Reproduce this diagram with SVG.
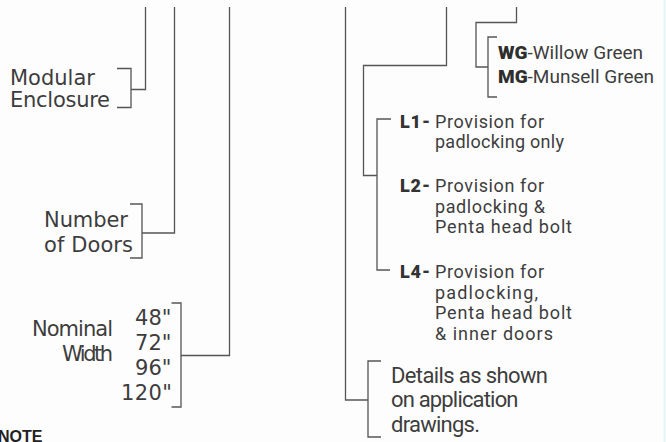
<svg xmlns="http://www.w3.org/2000/svg" width="666" height="442" viewBox="0 0 666 442">
<style>
.ln{fill:none;stroke:#555;stroke-width:1.3}
.lt{font-family:"DejaVu Sans",sans-serif;font-size:21px;fill:#3d3d3d}
.rt{font-family:Roboto,"Liberation Sans",sans-serif;font-size:18px;fill:#3d3d3d}
.rb{font-family:Roboto,"Liberation Sans",sans-serif;font-size:18px;font-weight:900;fill:#333}
.ct{font-family:Roboto,"Liberation Sans",sans-serif;font-size:19px;fill:#3d3d3d}
.cb{font-weight:900;fill:#2e2e2e}
.dt{font-family:Roboto,"Liberation Sans",sans-serif;font-size:22px;fill:#3d3d3d}
.nt{font-family:"Liberation Sans",sans-serif;font-size:16px;font-weight:bold;fill:#222}
</style>
<rect width="666" height="442" fill="#fdfdfd"/>
<line x1="664.5" y1="0" x2="664.5" y2="442" stroke="#e4f4f8" stroke-width="2"/>
<g id="connectors">
<path class="ln" d="M145.5 7V89.5H131"/>
<path class="ln" d="M117 68.5H131V107.5H117"/>
<path class="ln" d="M174.5 7V233H142"/>
<path class="ln" d="M130 204H142V258H130"/>
<path class="ln" d="M229.5 7V355.5H181"/>
<path class="ln" d="M171.5 303H181V407H171.5"/>
<path class="ln" d="M345.5 7V400H368"/>
<path class="ln" d="M381 361H368V437H381"/>
<path class="ln" d="M446.5 7V65.5H363.5V175.5H377"/>
<path class="ln" d="M391 119H377V270H390"/>
<path class="ln" d="M516.5 7V22.5H476V67H488"/>
<path class="ln" d="M497 37H488V97H497"/>
</g>
<g id="modular-enclosure">
<text class="lt" x="10" y="85">Modular</text>
<text class="lt" x="10" y="107" textLength="100">Enclosure</text>
</g>
<g id="number-of-doors">
<text class="lt" x="44" y="227" textLength="84">Number</text>
<text class="lt" x="44" y="252" textLength="89">of Doors</text>
</g>
<g id="nominal-width">
<text class="lt" x="32" y="336" textLength="81">Nominal</text>
<text class="lt" x="62" y="361" textLength="51">Width</text>
<text class="lt" x="135" y="325" textLength="36.5">48"</text>
<text class="lt" x="135" y="350" textLength="36.5">72"</text>
<text class="lt" x="135" y="375" textLength="36.5">96"</text>
<text class="lt" x="121" y="400" textLength="51">120"</text>
</g>
<g id="colours">
<text class="ct" x="498" y="59"><tspan class="cb">WG</tspan>-Willow Green</text>
<text class="ct" x="498" y="83"><tspan class="cb">MG</tspan>-Munsell Green</text>
</g>
<g id="l1">
<text class="rb" x="400" y="128" textLength="30">L1-</text>
<text class="rt" x="435" y="128" textLength="109">Provision for</text>
<text class="rt" x="435" y="148" textLength="129">padlocking only</text>
</g>
<g id="l2">
<text class="rb" x="400" y="192" textLength="30">L2-</text>
<text class="rt" x="435" y="192" textLength="109">Provision for</text>
<text class="rt" x="435" y="212.5" textLength="110">padlocking &amp;</text>
<text class="rt" x="435" y="233" textLength="137">Penta head bolt</text>
</g>
<g id="l4">
<text class="rb" x="400" y="278" textLength="30">L4-</text>
<text class="rt" x="435" y="278" textLength="109">Provision for</text>
<text class="rt" x="435" y="298.5" textLength="103">padlocking,</text>
<text class="rt" x="435" y="319" textLength="137">Penta head bolt</text>
<text class="rt" x="435" y="340" textLength="118">&amp; inner doors</text>
</g>
<g id="details">
<text class="dt" x="391" y="382.5" textLength="157">Details as shown</text>
<text class="dt" x="391" y="407" textLength="127.5">on application</text>
<text class="dt" x="391" y="431.5" textLength="89">drawings.</text>
</g>
<g id="note">
<text class="nt" x="-2" y="442">NOTE</text>
</g>
</svg>
